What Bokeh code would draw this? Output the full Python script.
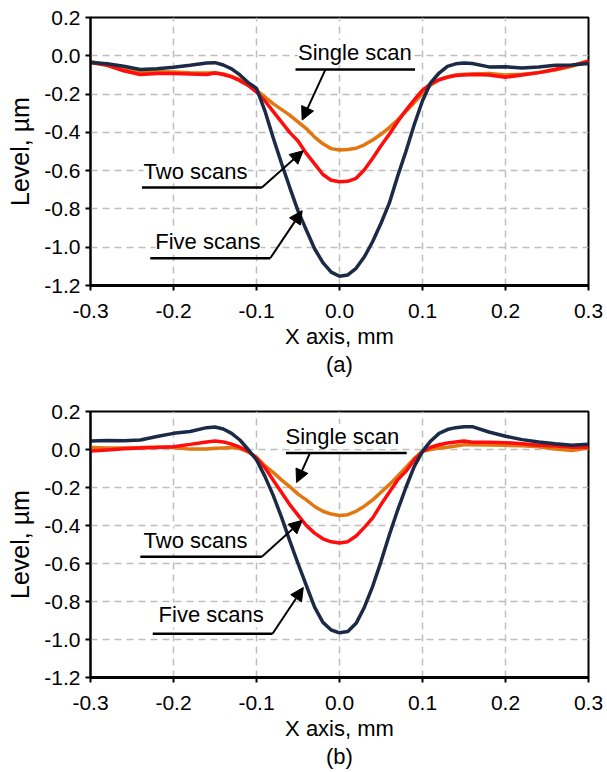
from bokeh.plotting import figure
from bokeh.layouts import column
from bokeh.models import (Range1d, FixedTicker, PrintfTickFormatter, Label, Arrow,
                          NormalHead)
from bokeh.embed import file_html
from bokeh.resources import INLINE

# ---------------- data ----------------
x_pos = [-0.30, -0.28, -0.26, -0.24, -0.22, -0.20, -0.18, -0.16, -0.15, -0.14, -0.13,
         -0.12, -0.11, -0.10, -0.09, -0.08, -0.07, -0.06, -0.05, -0.04, -0.03, -0.02,
         -0.01, 0.00, 0.01, 0.02, 0.03, 0.04, 0.05, 0.06, 0.07, 0.08, 0.09, 0.10, 0.11,
         0.12, 0.13, 0.14, 0.15, 0.16, 0.18, 0.20, 0.22, 0.24, 0.26, 0.28, 0.30]

# panel (a)
single_a = [-0.030, -0.048, -0.068, -0.082, -0.083, -0.085, -0.088, -0.090, -0.088, -0.095, -0.108,
            -0.125, -0.150, -0.180, -0.215, -0.250, -0.280, -0.310, -0.345, -0.380, -0.425, -0.460,
            -0.485, -0.492, -0.490, -0.483, -0.465, -0.440, -0.410, -0.375, -0.335, -0.290, -0.245, -0.197, -0.153,
            -0.125, -0.110, -0.100, -0.097, -0.095, -0.093, -0.100, -0.097, -0.088, -0.075, -0.055, -0.025]
two_a = [-0.035, -0.050, -0.078, -0.098, -0.093, -0.092, -0.095, -0.098, -0.090, -0.098, -0.110,
         -0.130, -0.155, -0.190, -0.235, -0.290, -0.345, -0.400, -0.445, -0.510, -0.565, -0.620,
         -0.650, -0.658, -0.656, -0.640, -0.595, -0.535, -0.470, -0.410, -0.345, -0.285, -0.230, -0.180, -0.145,
         -0.125, -0.112, -0.103, -0.100, -0.098, -0.100, -0.112, -0.100, -0.088, -0.070, -0.050, -0.030]
five_a = [-0.035, -0.042, -0.055, -0.072, -0.068, -0.060, -0.050, -0.038, -0.036, -0.048, -0.068,
          -0.100, -0.140, -0.170, -0.286, -0.427, -0.560, -0.687, -0.810, -0.910, -1.008, -1.080,
          -1.130, -1.152, -1.145, -1.110, -1.050, -0.970, -0.875, -0.770, -0.630, -0.500, -0.360, -0.235, -0.140,
          -0.090, -0.055, -0.042, -0.038, -0.040, -0.058, -0.057, -0.064, -0.058, -0.050, -0.048, -0.040]

# panel (b)
single_b = [0.010, 0.008, 0.008, 0.010, 0.013, 0.010, 0.002, 0.003, 0.006, 0.008, 0.010,
            0.005, -0.012, -0.040, -0.085, -0.120, -0.160, -0.195, -0.235, -0.265, -0.300, -0.325,
            -0.340, -0.347, -0.343, -0.325, -0.298, -0.265, -0.225, -0.185, -0.140, -0.095, -0.048, -0.008, 0.000,
            0.008, 0.012, 0.018, 0.025, 0.025, 0.024, 0.022, 0.020, 0.015, 0.002, -0.005, 0.008]
two_b = [-0.008, -0.002, 0.004, 0.008, 0.010, 0.015, 0.027, 0.040, 0.045, 0.040, 0.028,
         0.012, -0.010, -0.045, -0.095, -0.160, -0.225, -0.290, -0.345, -0.400, -0.440, -0.470,
         -0.486, -0.492, -0.485, -0.455, -0.410, -0.360, -0.290, -0.225, -0.160, -0.115, -0.055, -0.012, 0.012,
         0.025, 0.034, 0.040, 0.045, 0.038, 0.038, 0.036, 0.030, 0.022, 0.018, 0.012, 0.012]
five_b = [0.045, 0.048, 0.046, 0.050, 0.068, 0.085, 0.095, 0.115, 0.118, 0.108, 0.085,
          0.050, 0.000, -0.055, -0.140, -0.240, -0.355, -0.480, -0.600, -0.715, -0.830, -0.910,
          -0.950, -0.965, -0.958, -0.915, -0.830, -0.720, -0.590, -0.450, -0.320, -0.200, -0.090, -0.010, 0.045,
          0.085, 0.105, 0.115, 0.120, 0.120, 0.092, 0.070, 0.052, 0.040, 0.030, 0.022, 0.028]

x_ticks = [-0.3, -0.2, -0.1, 0.0, 0.1, 0.2, 0.3]
y_ticks = [-1.2, -1.0, -0.8, -0.6, -0.4, -0.2, 0.0, 0.2]
series_names = ["Single scan", "Two scans", "Five scans"]

# annotation placement (data units): text anchor (middle), underline span, arrow start/end
ann_a = {
    "text_x": [-0.050, -0.236, -0.222], "text_y": [0.017, -0.602, -0.970],
    "ul_x0": [-0.053, -0.238, -0.228], "ul_x1": [0.091, -0.0935, -0.0835], "ul_y": [-0.072, -0.688, -1.058],
    "ar_x0": [-0.017, -0.0935, -0.0835], "ar_y0": [-0.072, -0.688, -1.058],
    "ar_x1": [-0.045, -0.0437, -0.045], "ar_y1": [-0.336, -0.496, -0.809],
}
ann_b = {
    "text_x": [-0.065, -0.236, -0.218], "text_y": [0.068, -0.481, -0.871],
    "ul_x0": [-0.0645, -0.240, -0.225], "ul_x1": [0.081, -0.0936, -0.0807], "ul_y": [-0.018, -0.564, -0.970],
    "ar_x0": [-0.0355, -0.0936, -0.0807], "ar_y0": [-0.018, -0.564, -0.970],
    "ar_x1": [-0.0517, -0.045, -0.0436], "ar_y1": [-0.174, -0.373, -0.726],
}

COLORS = {"single": "#e2760f", "two": "#ff0d0d", "five": "#1b2a47"}
FONT = "Liberation Sans"


def make_panel(single, two, five, ann, tag, top, bottom):
    p = figure(width=607, height=386, x_range=Range1d(-0.3, 0.3), y_range=Range1d(-1.2, 0.2),
               output_backend="svg", toolbar_location=None,
               min_border_left=90, min_border_right=19, min_border_top=top, min_border_bottom=bottom)
    p.outline_line_color = "black"
    p.outline_line_width = 2
    p.background_fill_color = "white"
    p.border_fill_color = "white"

    p.xaxis.ticker = FixedTicker(ticks=x_ticks)
    p.yaxis.ticker = FixedTicker(ticks=y_ticks)
    p.xaxis.formatter = PrintfTickFormatter(format="%.1f")
    p.yaxis.formatter = PrintfTickFormatter(format="%.1f")
    for ax in (p.xaxis, p.yaxis):
        ax.major_label_text_font = FONT
        ax.major_label_text_font_size = "21px"
        ax.major_label_text_color = "black"
        ax.axis_label_text_font = FONT
        ax.axis_label_text_font_style = "normal"
        ax.axis_label_text_color = "black"
        ax.major_tick_out = 5
        ax.major_tick_in = 0
        ax.minor_tick_out = 0
        ax.minor_tick_in = 0
        ax.major_tick_line_color = "black"
        ax.major_tick_line_width = 2
        ax.axis_line_color = "black"
    p.xaxis.axis_label_text_font_size = "22px"
    p.xaxis.axis_label_text_line_height = 1.15
    p.yaxis.axis_label_text_font_size = "25px"
    p.xaxis.axis_line_width = 3
    p.yaxis.axis_line_width = 2
    # the panel tag "(a)"/"(b)" sits as a second line under the x axis title
    p.xaxis.axis_label = "X axis, mm\n" + tag
    p.yaxis.axis_label = "Level, µm"
    p.xaxis.major_label_standoff = 13
    p.yaxis.major_label_standoff = 5
    p.xaxis.axis_label_standoff = 3
    p.yaxis.axis_label_standoff = 7

    for g in (p.xgrid, p.ygrid):
        g.grid_line_color = "#bdbdbd"
        g.grid_line_dash = "7 5"
        g.grid_line_width = 1.5
    p.xgrid.ticker = FixedTicker(ticks=x_ticks)
    p.ygrid.ticker = FixedTicker(ticks=y_ticks)

    # annotation text boxes (white background hides grid lines, sits under curves)
    for i, name in enumerate(series_names):
        p.add_layout(Label(x=ann["text_x"][i], y=ann["text_y"][i], text=name,
                           text_font=FONT, text_font_size="22px", text_color="black",
                           text_align="left", text_baseline="middle",
                           background_fill_color="white", background_fill_alpha=1.0,
                           level="underlay"))

    p.line(x_pos, single, line_color=COLORS["single"], line_width=3.5)
    p.line(x_pos, two, line_color=COLORS["two"], line_width=3.5)
    p.line(x_pos, five, line_color=COLORS["five"], line_width=3.5)

    for i in range(3):
        p.line([ann["ul_x0"][i], ann["ul_x1"][i]], [ann["ul_y"][i], ann["ul_y"][i]],
               line_color="black", line_width=2.5)
        p.add_layout(Arrow(end=NormalHead(size=13, fill_color="black", line_color="black", line_width=1),
                           x_start=ann["ar_x0"][i], y_start=ann["ar_y0"][i],
                           x_end=ann["ar_x1"][i], y_end=ann["ar_y1"][i],
                           line_color="black", line_width=2))
    return p


pa = make_panel(single_a, two_a, five_a, ann_a, "(a)", 17, 101)
pb = make_panel(single_b, two_b, five_b, ann_b, "(b)", 25, 95)

layout = column(pa, pb, spacing=0)
open("out.html", "w").write(file_html(layout, INLINE))
